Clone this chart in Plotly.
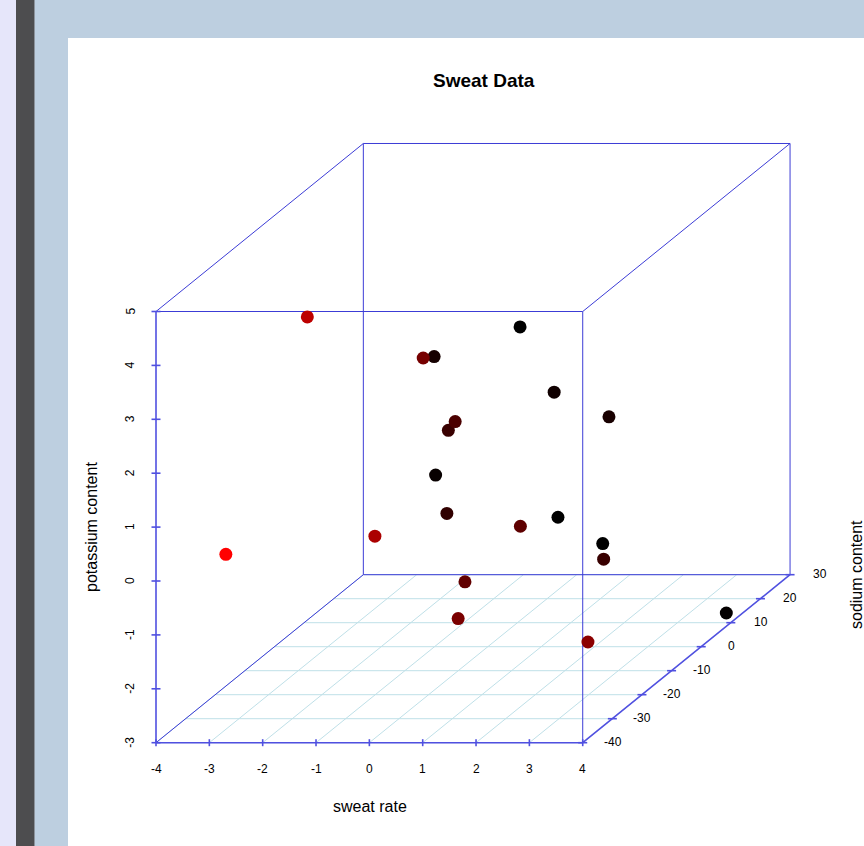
import plotly.graph_objects as go

# ---------------- data (centered sweat data) ----------------
sweat_rate = [-0.94, 1.06, -0.84, -1.44, -1.54, -0.04, -2.24, 2.56, 2.06, 0.76,
              -0.74, -0.14, -1.14, -0.14, -3.14, 3.86, -0.14, 1.86, -0.54, 0.86]
sodium = [3.1, 19.7, 1.8, 7.8, 10.1, -9.3, -20.6, -12.3, 2.0, 8.7,
          -8.5, 13.4, -17.6, -5.2, -31.9, 11.0, 26.2, 7.4, -1.3, -4.5]
potassium = [-0.665, -1.965, 0.935, 2.035, -0.265, -2.065, 4.035, -2.365, -1.465, 1.335,
             2.735, 2.335, -0.165, -1.565, 0.135, -2.865, -1.765, 0.935, 1.235, -0.565]

x_ticks = [-4, -3, -2, -1, 0, 1, 2, 3, 4]
y_ticks = [-40, -30, -20, -10, 0, 10, 20, 30]
z_ticks = [-3, -2, -1, 0, 1, 2, 3, 4, 5]

title = "Sweat Data"
x_label = "sweat rate"
y_label = "sodium content"
z_label = "potassium content"

# ---------------- projection / layout constants ----------------
W, H = 864, 846
PXX = 53.34      # px per x unit
PXZ = 53.9       # px per z unit
KX = 0.05553     # x-units shift per sodium unit
KZ = 0.04453     # z-units shift per sodium unit
XMIN, XMAX = x_ticks[0], x_ticks[-1]
YMIN, YMAX = y_ticks[0], y_ticks[-1]
ZMIN, ZMAX = z_ticks[0], z_ticks[-1]
ORIGIN_PX = (156.0, 742.7)  # pixel of (xmin, ymin, zmin)

XR0 = XMIN - ORIGIN_PX[0] / PXX
XR1 = XMIN + (W - ORIGIN_PX[0]) / PXX
ZR1 = ZMIN + ORIGIN_PX[1] / PXZ
ZR0 = ZMIN - (H - ORIGIN_PX[1]) / PXZ


def proj(x, y, z):
    return x + (y - YMIN) * KX, z + (y - YMIN) * KZ


def seg_trace(segs, color, width):
    xs, ys = [], []
    for (a, b) in segs:
        pa, pb = proj(*a), proj(*b)
        xs += [pa[0], pb[0], None]
        ys += [pa[1], pb[1], None]
    return go.Scatter(x=xs, y=ys, mode="lines", line=dict(color=color, width=width),
                      hoverinfo="skip", showlegend=False)


fig = go.Figure()

# floor grid
grid = []
for xt in x_ticks:
    grid.append(((xt, YMIN, ZMIN), (xt, YMAX, ZMIN)))
for yt in y_ticks:
    grid.append(((XMIN, yt, ZMIN), (XMAX, yt, ZMIN)))
fig.add_trace(seg_trace(grid, "#bfe0e8", 1))

# box
box = [
    ((XMIN, YMAX, ZMIN), (XMAX, YMAX, ZMIN)),
    ((XMIN, YMAX, ZMIN), (XMIN, YMAX, ZMAX)),
    ((XMIN, YMAX, ZMAX), (XMAX, YMAX, ZMAX)),
    ((XMAX, YMAX, ZMIN), (XMAX, YMAX, ZMAX)),
    ((XMIN, YMIN, ZMAX), (XMAX, YMIN, ZMAX)),
    ((XMAX, YMIN, ZMIN), (XMAX, YMIN, ZMAX)),
    ((XMIN, YMIN, ZMIN), (XMIN, YMAX, ZMIN)),
    ((XMIN, YMIN, ZMAX), (XMIN, YMAX, ZMAX)),
    ((XMAX, YMIN, ZMAX), (XMAX, YMAX, ZMAX)),
]
fig.add_trace(seg_trace(box, "#3c3cd6", 1))

# axes
axes = [
    ((XMIN, YMIN, ZMIN), (XMAX, YMIN, ZMIN)),
    ((XMIN, YMIN, ZMIN), (XMIN, YMIN, ZMAX)),
    ((XMAX, YMIN, ZMIN), (XMAX, YMAX, ZMIN)),
]
fig.add_trace(seg_trace(axes, "#5050e0", 1.6))

# tick marks (as projected points with small pixel-length segments)
tx, ty = [], []
for xt in x_ticks:
    X, Z = proj(xt, YMIN, ZMIN)
    tx += [X, X, None]
    ty += [Z - 3.5 / PXZ, Z + 3.5 / PXZ, None]
for zt in z_ticks:
    X, Z = proj(XMIN, YMIN, zt)
    tx += [X - 4.5 / PXX, X + 4.5 / PXX, None]
    ty += [Z, Z, None]
for yt in y_ticks:
    X, Z = proj(XMAX, yt, ZMIN)
    tx += [X - 4.5 / PXX, X + 4.5 / PXX, None]
    ty += [Z, Z, None]
fig.add_trace(go.Scatter(x=tx, y=ty, mode="lines", line=dict(color="#5050e0", width=1.6),
                         hoverinfo="skip", showlegend=False))

# points
pts = [proj(a, b, c) for a, b, c in zip(sweat_rate, sodium, potassium)]
fig.add_trace(go.Scatter(
    x=[p[0] for p in pts], y=[p[1] for p in pts], mode="markers",
    marker=dict(size=13, color=sodium, cmin=-31.9, cmax=11.5,
                colorscale=[[0, "rgb(255,0,0)"], [1, "rgb(0,0,0)"]],
                line=dict(width=0)),
    showlegend=False, hoverinfo="skip"))

FONT = "Liberation Sans, Arial, Helvetica, sans-serif"
ann = []
for xt in x_ticks:
    X, Z = proj(xt, YMIN, ZMIN)
    ann.append(dict(x=X, y=Z - 26 / PXZ, text=str(xt), showarrow=False,
                    xanchor="center", yanchor="middle", font=dict(size=12, color="black", family=FONT)))
for zt in z_ticks:
    X, Z = proj(XMIN, YMIN, zt)
    ann.append(dict(x=X - 26 / PXX, y=Z, text=str(zt), showarrow=False, textangle=-90,
                    xanchor="center", yanchor="middle", font=dict(size=12, color="black", family=FONT)))
for yt in y_ticks:
    X, Z = proj(XMAX, yt, ZMIN)
    ann.append(dict(x=X + 30 / PXX, y=Z + 1 / PXZ, text=str(yt), showarrow=False,
                    xanchor="center", yanchor="middle", font=dict(size=12, color="black", family=FONT)))


def dx(px):
    return XR0 + px / PXX


def dz(py):
    return ZR1 - py / PXZ


ann.append(dict(x=dx(483.5), y=dz(80), text="<b>" + title + "</b>", showarrow=False,
                xanchor="center", yanchor="middle", font=dict(size=19, color="black", family=FONT)))
ann.append(dict(x=dx(370), y=dz(806), text=x_label, showarrow=False,
                xanchor="center", yanchor="middle", font=dict(size=16, color="black", family=FONT)))
ann.append(dict(x=dx(91), y=dz(527), text=z_label, showarrow=False, textangle=-90,
                xanchor="center", yanchor="middle", font=dict(size=16, color="black", family=FONT)))
ann.append(dict(x=dx(856), y=dz(575), text=y_label, showarrow=False, textangle=-90,
                xanchor="center", yanchor="middle", font=dict(size=16, color="black", family=FONT)))


def rect(x0, y0, x1, y1, color):
    return dict(type="rect", xref="paper", yref="paper", layer="below",
                x0=x0 / W, x1=x1 / W, y0=1 - y1 / H, y1=1 - y0 / H,
                fillcolor=color, line=dict(width=0))


shapes = [
    rect(0, 0, 16, H, "#e6e6fa"),
    rect(16, 0, 34, H, "#4d4d4f"),
    rect(34, 0, 35, H, "#8c939c"),
    rect(68, 38, W, H, "#ffffff"),
]

fig.update_layout(
    width=W, height=H, autosize=False,
    margin=dict(l=0, r=0, t=0, b=0, pad=0),
    paper_bgcolor="#bdcfe0", plot_bgcolor="rgba(0,0,0,0)",
    xaxis=dict(visible=False, range=[XR0, XR1], fixedrange=True),
    yaxis=dict(visible=False, range=[ZR0, ZR1], fixedrange=True),
    annotations=ann, shapes=shapes, hovermode=False,
)

fig.write_html("out.html", config={"displayModeBar": False},
               post_script="document.body.style.margin='0';document.body.style.overflow='hidden';")
